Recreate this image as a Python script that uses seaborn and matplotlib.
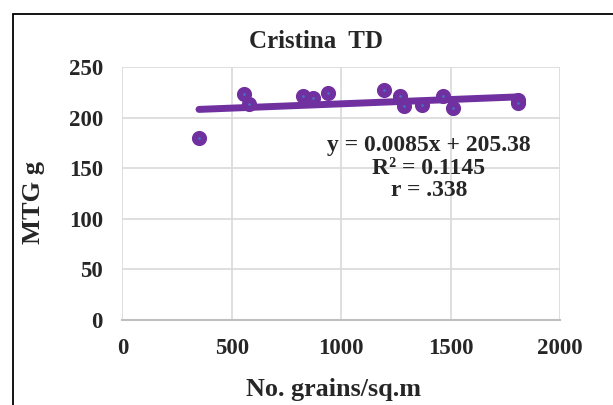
import numpy as np
import pandas as pd
import matplotlib
matplotlib.use("Agg")
import matplotlib.pyplot as plt
import seaborn as sns
from matplotlib.patches import Rectangle

# Data
grains = [350, 557, 579, 824, 870, 940, 1197, 1269, 1287, 1368, 1467, 1510, 1809, 1810]
mtg = [180, 224, 214, 221.5, 220, 225, 228, 222, 212, 213, 222, 210, 218, 215]
slope = 0.0085
intercept = 205.38
eq_lines = ["y = 0.0085x + 205.38", "R² = 0.1145", "r = .338"]
x_ticks = [0, 500, 1000, 1500, 2000]
y_ticks = [0, 50, 100, 150, 200, 250]

df = pd.DataFrame({"grains": grains, "mtg": mtg})

sns.set_style("white")
plt.rcParams['font.family'] = ['Liberation Serif', 'DejaVu Serif']
plt.rcParams['font.weight'] = 'bold'

fig = plt.figure(figsize=(6.13, 4.05), dpi=100)
ax = fig.add_axes([0.1997, 0.2099, 0.7138, 0.6239])

# outer chart border (only left/top visible in the crop)
fig.patches.append(Rectangle((13 / 613, -0.1), 1.2, 1 - 13.5 / 405 + 0.1,
                             transform=fig.transFigure, fill=False,
                             edgecolor="black", linewidth=1.3))

# trendline from the fitted equation
xl = np.array([df.grains.min(), df.grains.max()])
ax.plot(xl, slope * xl + intercept, color="#7030A0", linewidth=5,
        solid_capstyle="round", zorder=3)

sns.scatterplot(data=df, x="grains", y="mtg", ax=ax, s=42,
                color="#4472C4", edgecolor="#7030A0", linewidth=4.4, zorder=4)

ax.set_xlim(0, 2000)
ax.set_ylim(0, 250)
ax.set_xticks(x_ticks)
ax.set_yticks(y_ticks)
ax.grid(True, color="#D9D9D9", linewidth=1.2)
ax.set_axisbelow(True)
for s in ["top", "right", "left"]:
    ax.spines[s].set_visible(False)
ax.spines["bottom"].set_color("#BFBFBF")
ax.spines["bottom"].set_linewidth(1.5)
ax.tick_params(axis="both", length=0, labelsize=16.5)
ax.tick_params(axis="x", pad=13)
ax.tick_params(axis="y", pad=14)

ax.set_xlabel("No. grains/sq.m", fontsize=18.8, fontweight="bold")
ax.xaxis.set_label_coords((334 - 122.4) / 437.6, (320 - 390) / 252.7)
ax.xaxis.label.set_va("center")
ax.set_ylabel("MTG g", fontsize=19, fontweight="bold")
ax.yaxis.set_label_coords((33 - 122.4) / 437.6, (320 - 202) / 252.7)
ax.yaxis.label.set_va("center")

fig.text(316 / 613, 1 - 42 / 405, "Cristina  TD", ha="center", va="center",
         fontsize=18, fontweight="bold")

ax.text(0.70, 0.60, "\n".join(eq_lines), transform=ax.transAxes,
        ha="center", va="center", fontsize=17, fontweight="bold",
        linespacing=1.1, multialignment="center")

fig.savefig("out.png", dpi=100)
